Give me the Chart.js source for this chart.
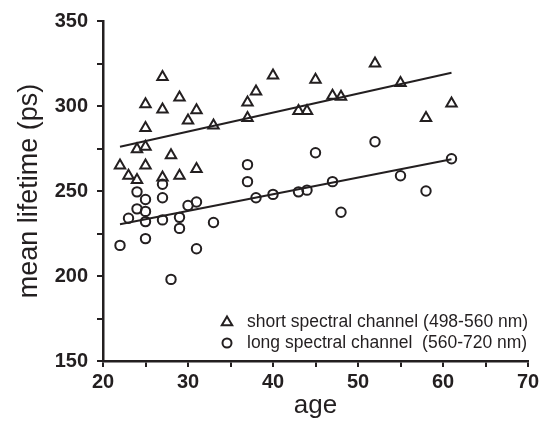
<!DOCTYPE html>
<html>
<head>
<meta charset="utf-8">
<script src="https://cdn.jsdelivr.net/npm/chart.js@4"></script>
<style>
  html, body { margin: 0; padding: 0; background: #fff; }
  canvas { display: block; }
</style>
</head>
<body>
<canvas id="chart" width="547" height="421"></canvas>
<script>
// ages and lifetimes
const shortAge = [22, 23, 24, 24, 25, 25, 25, 25, 27, 27, 27, 28, 29, 29, 30, 31, 31, 33, 37, 37, 38, 40, 43, 44, 45, 47, 48, 52, 55, 58, 61];
const shortLife = [265, 259, 256.5, 274.5, 276, 287, 301, 265, 317, 298, 258, 271, 305, 259, 291.5, 297.5, 263, 288.5, 302, 293, 308.5, 318, 297, 297, 315.5, 306, 305.5, 325, 313.5, 293, 301.5];

const longAge = [22, 23, 24, 24, 25, 25, 25, 25, 27, 27, 27, 28, 29, 29, 30, 31, 31, 33, 37, 37, 38, 40, 43, 44, 45, 47, 48, 52, 55, 58, 61];
const longLife = [218, 234, 249.5, 239.5, 245, 238, 232, 222, 254, 246, 233, 198, 234.5, 228, 241.5, 243.5, 216, 231.5, 265.5, 255.5, 246, 248, 249.5, 250.5, 272.5, 255.5, 237.5, 279, 259, 250, 269];

// linear fits (end points)
const fitAge = [22, 61];
const fitShort = [276, 319.5];
const fitLong = [230.5, 268.7];

const xTicks = [20, 30, 40, 50, 60, 70];
const yTicks = [150, 200, 250, 300, 350];

const legendLabels = ["short spectral channel (498-560 nm)", "long spectral channel  (560-720 nm)"];

const ink = "#231f20";
const fontFamily = "'Liberation Sans', Arial, sans-serif";

const toPoints = (xs, ys) => xs.map((x, i) => ({ x: x, y: ys[i] }));

// legend drawn inside the plot, lower right
const insideLegend = {
  id: "insideLegend",
  afterDraw(chart) {
    const ctx = chart.ctx;
    const x0 = 227;
    const rows = [322, 343];
    ctx.save();
    ctx.strokeStyle = ink;
    ctx.lineWidth = 2;
    // triangle
    const r = 5.5;
    ctx.beginPath();
    ctx.moveTo(x0, rows[0] - r);
    ctx.lineTo(x0 + r * 0.95, rows[0] + r * 0.6);
    ctx.lineTo(x0 - r * 0.95, rows[0] + r * 0.6);
    ctx.closePath();
    ctx.stroke();
    // circle
    ctx.beginPath();
    ctx.arc(x0, rows[1], 4.5, 0, Math.PI * 2);
    ctx.stroke();
    ctx.fillStyle = ink;
    ctx.font = "17.5px " + fontFamily;
    ctx.textBaseline = "middle";
    ctx.textAlign = "left";
    legendLabels.forEach((t, i) => ctx.fillText(t, 247, rows[i]));
    ctx.restore();
  }
};

new Chart(document.getElementById("chart"), {
  type: "scatter",
  data: {
    datasets: [
      {
        label: "short",
        data: toPoints(shortAge, shortLife),
        pointStyle: "triangle",
        pointRadius: 6,
        pointBorderWidth: 2,
        borderColor: ink,
        backgroundColor: "rgba(0,0,0,0)",
      },
      {
        label: "long",
        data: toPoints(longAge, longLife),
        pointStyle: "circle",
        pointRadius: 4.7,
        pointBorderWidth: 2,
        borderColor: ink,
        backgroundColor: "rgba(0,0,0,0)",
      },
      {
        label: "fit short",
        data: toPoints(fitAge, fitShort),
        showLine: true,
        pointRadius: 0,
        borderWidth: 2,
        borderColor: ink,
      },
      {
        label: "fit long",
        data: toPoints(fitAge, fitLong),
        showLine: true,
        pointRadius: 0,
        borderWidth: 2,
        borderColor: ink,
      },
    ],
  },
  options: {
    responsive: false,
    animation: false,
    devicePixelRatio: 1,
    layout: { padding: { left: 0, right: 19, top: 19, bottom: 0 } },
    plugins: {
      legend: { display: false },
      tooltip: { enabled: false },
    },
    scales: {
      x: {
        type: "linear",
        min: 20,
        max: 70,
        afterFit: (s) => { s.height = 60; },
        afterBuildTicks: (s) => {
          const t = [];
          for (let v = 20; v <= 70; v += 5) t.push({ value: v });
          s.ticks = t;
        },
        ticks: {
          callback: (v) => (xTicks.includes(v) ? v : ""),
          color: ink,
          padding: 3,
          maxRotation: 0,
          autoSkip: false,
          font: { family: fontFamily, size: 20, weight: "bold" },
        },
        grid: { drawOnChartArea: false, drawTicks: true, tickLength: 6, color: ink, lineWidth: 2 },
        border: { display: true, color: ink, width: 2.5 },
        title: {
          display: true,
          text: "age",
          color: ink,
          padding: { top: 0, bottom: 0 },
          font: { family: fontFamily, size: 26 },
        },
      },
      y: {
        type: "linear",
        min: 150,
        max: 350,
        afterFit: (s) => { s.width = 103; },
        afterBuildTicks: (s) => {
          const t = [];
          for (let v = 150; v <= 350; v += 25) t.push({ value: v });
          s.ticks = t;
        },
        ticks: {
          callback: (v) => (yTicks.includes(v) ? v : ""),
          color: ink,
          padding: 9,
          autoSkip: false,
          font: { family: fontFamily, size: 20, weight: "bold" },
        },
        grid: { drawOnChartArea: false, drawTicks: true, tickLength: 6, color: ink, lineWidth: 2 },
        border: { display: true, color: ink, width: 2.5 },
        title: {
          display: true,
          text: "mean lifetime (ps)",
          color: ink,
          padding: { top: 13, bottom: 0 },
          font: { family: fontFamily, size: 27 },
        },
      },
    },
  },
  plugins: [insideLegend],
});
</script>
</body>
</html>
